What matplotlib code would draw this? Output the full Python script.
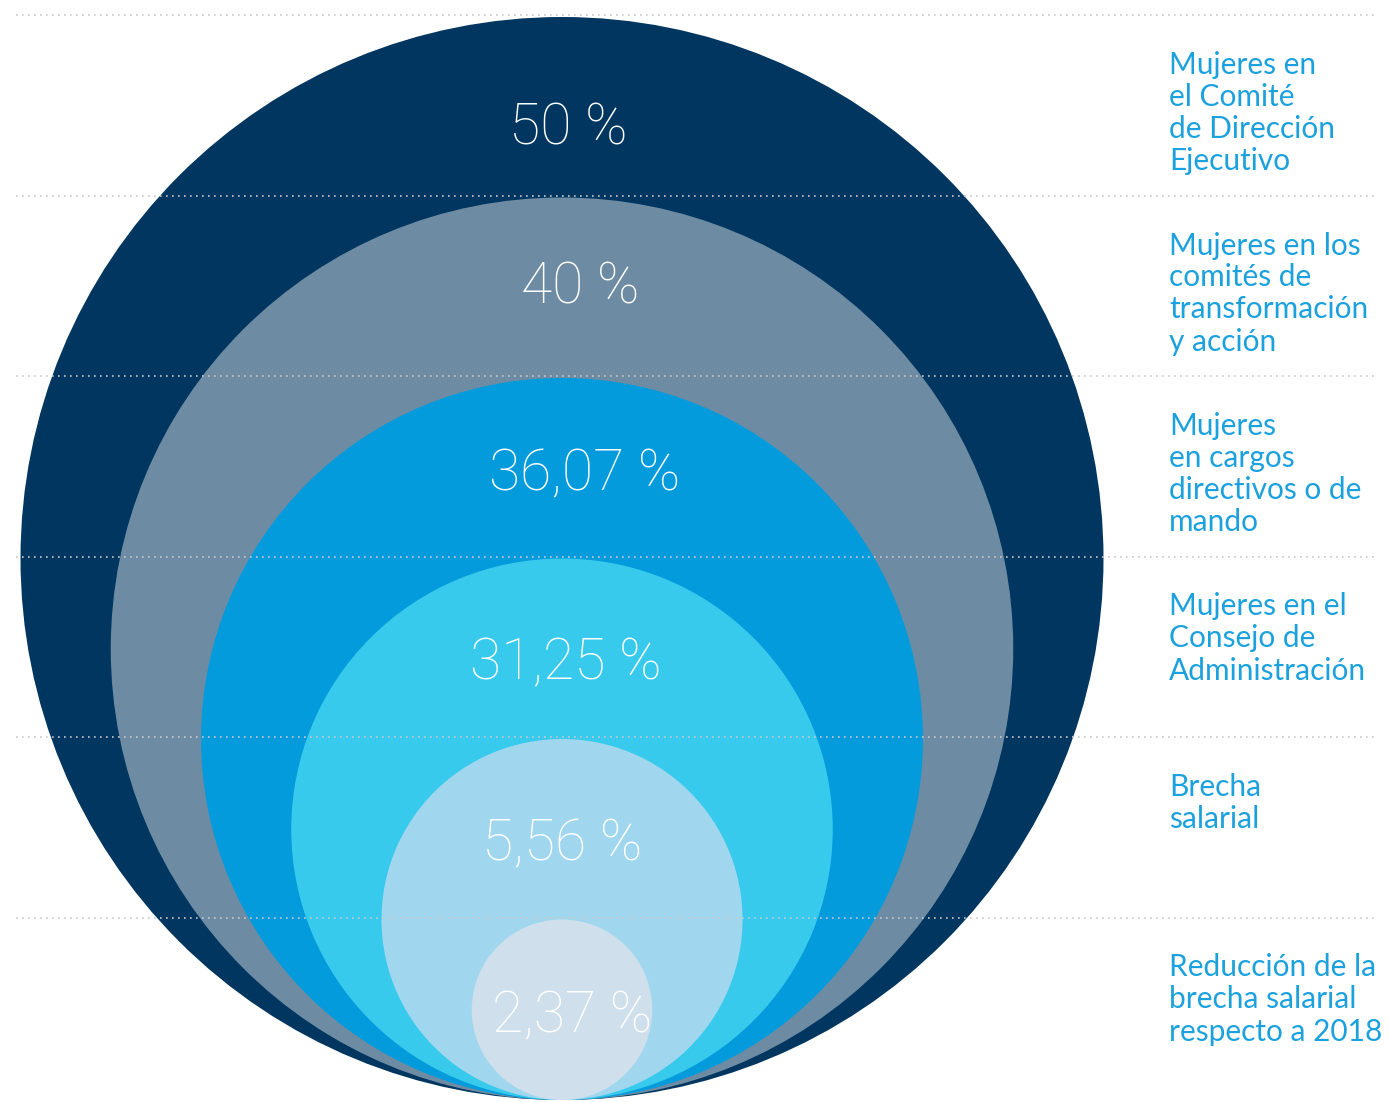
import matplotlib
matplotlib.use("Agg")
import matplotlib.pyplot as plt
from matplotlib.patches import Circle

# ---- data ----
values = ["50 %", "40 %", "36,07 %", "31,25 %", "5,56 %", "2,37 %"]
categories = [
    "Mujeres en\nel Comité\nde Dirección\nEjecutivo",
    "Mujeres en los\ncomités de\ntransformación\ny acción",
    "Mujeres\nen cargos\ndirectivos o de\nmando",
    "Mujeres en el\nConsejo de\nAdministración",
    "Brecha\nsalarial",
    "Reducción de la\nbrecha salarial\nrespecto a 2018",
]
colors = ["#00365F", "#6D8CA4", "#039BDC", "#38CAEC", "#A1D7EE", "#CFE0EC"]

# ---- layout (label offsets relative to circle centre-x / circle top) ----
label_dx = [6, 18, 23, 4, 0, 10]
label_dy = [112, 90, 97, 105, 106, 97]

W, H = 1390, 1102
fig = plt.figure(figsize=(W / 100, H / 100), dpi=100)
ax = fig.add_axes([0, 0, 1, 1])
ax.set_xlim(0, W)
ax.set_ylim(H, 0)
ax.set_aspect("equal")
ax.axis("off")

cx = 562
bottom = 1100
R = 541.5
n = len(values)
text_blue = "#1BA1DD"

for i, (val, cat, col) in enumerate(zip(values, categories, colors)):
    r = R * (n - i) / n
    top = bottom - 2 * r
    ax.add_patch(Circle((cx, bottom - r), r, facecolor=col, edgecolor="none", zorder=1 + i))
    ax.plot([16, 1376], [top - 2, top - 2], linestyle=(0, (1, 2.6)), color="#C8C8C8",
            linewidth=1.2, zorder=1 + i + 0.5)
    ax.text(cx + label_dx[i], top + label_dy[i], val, ha="center", va="center", color="white",
            fontsize=41, family=["Roboto", "DejaVu Sans"], fontweight=100, zorder=20)
    for k, line in enumerate(cat.split("\n")):
        ax.text(1169, top + 57 + 32 * k, line, ha="left", va="baseline", color=text_blue,
                fontsize=21.5, family=["Lato", "DejaVu Sans"], zorder=20)

fig.savefig("out.png", dpi=100)
